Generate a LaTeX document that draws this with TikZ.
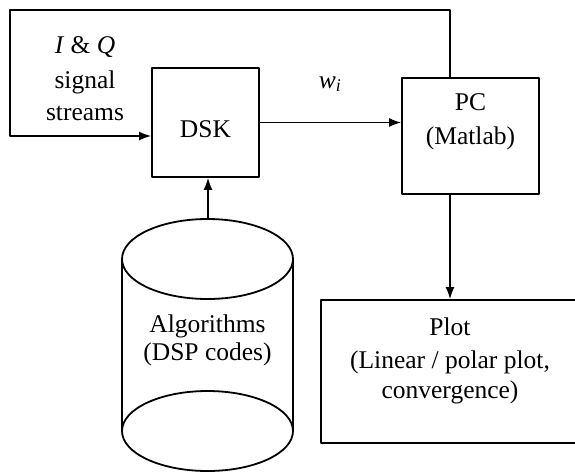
\documentclass[tikz,border=0pt]{standalone}
\usepackage{fontspec}
\setmainfont{Liberation Serif}
\usetikzlibrary{arrows.meta}
\begin{document}
\begin{tikzpicture}[x=1pt, y=-1pt, line width=1.5pt, line join=round,
		>={Latex[length=12pt,width=9pt]}, font=\fontsize{25.5}{31}\selectfont,
		blok/.style={draw, line width=1.8pt, inner sep=0pt}]
			\useasboundingbox (0,0) rectangle (575,474);
			\coordinate (K) at (450,10);
			\coordinate (L) at (10,10);
			\coordinate (M) at (10,136);
			\coordinate (T) at (208,219);
			\node[blok, minimum width=107, minimum height=109] (dsk) at (205.5,122.5) {};
			\node[blok, minimum width=137, minimum height=116] (pc) at (470.5,136) {};
			\node[blok, minimum width=262, minimum height=143] (plot) at (452,371.5) {};
			% cylinder
			\draw[line width=1.8pt] (207.5,259) ellipse (85.5 and 40);
			\draw[line width=1.8pt] (207.5,431) ellipse (85.5 and 40);
			\draw[line width=1.8pt] (122,259)--(122,431) (293,259)--(293,431);
			% texts
			\node[anchor=base] (iq) at (85,53) {\textit{I} \& \textit{Q}};
			\node[anchor=base] (sg) at (85,88) {signal};
			\node[anchor=base] (st) at (85,120) {streams};
			\node[anchor=base] (dskt) at (205.5,137) {DSK};
			\node[anchor=base] (w) at (330,88) {\textit{w}\textsubscript{\textit{i}}};
			\node[anchor=base] (pct) at (470.5,110) {PC};
			\node[anchor=base] (mat) at (470.5,144) {(Matlab)};
			\node[anchor=base] (alg) at (207.5,332) {Algorithms};
			\node[anchor=base] (dsp) at (207.5,360) {(DSP codes)};
			\node[anchor=base] (plt) at (450,335) {Plot};
			\node[anchor=base] (lin) at (450,368) {(Linear / polar plot,};
			\node[anchor=base] (conv) at (450,398) {convergence)};
			% connectors
			\draw[->] (pc.north -| K)--(K)--(L)--(M)--(M -| dsk.west);
			\draw[->] (dsk.east)--(dsk.east -| pc.west);
			\draw[->] (T)--(T |- dsk.south);
			\draw[->] (pc.south -| K)--(plot.north -| K);
		\end{tikzpicture}
\end{document}
